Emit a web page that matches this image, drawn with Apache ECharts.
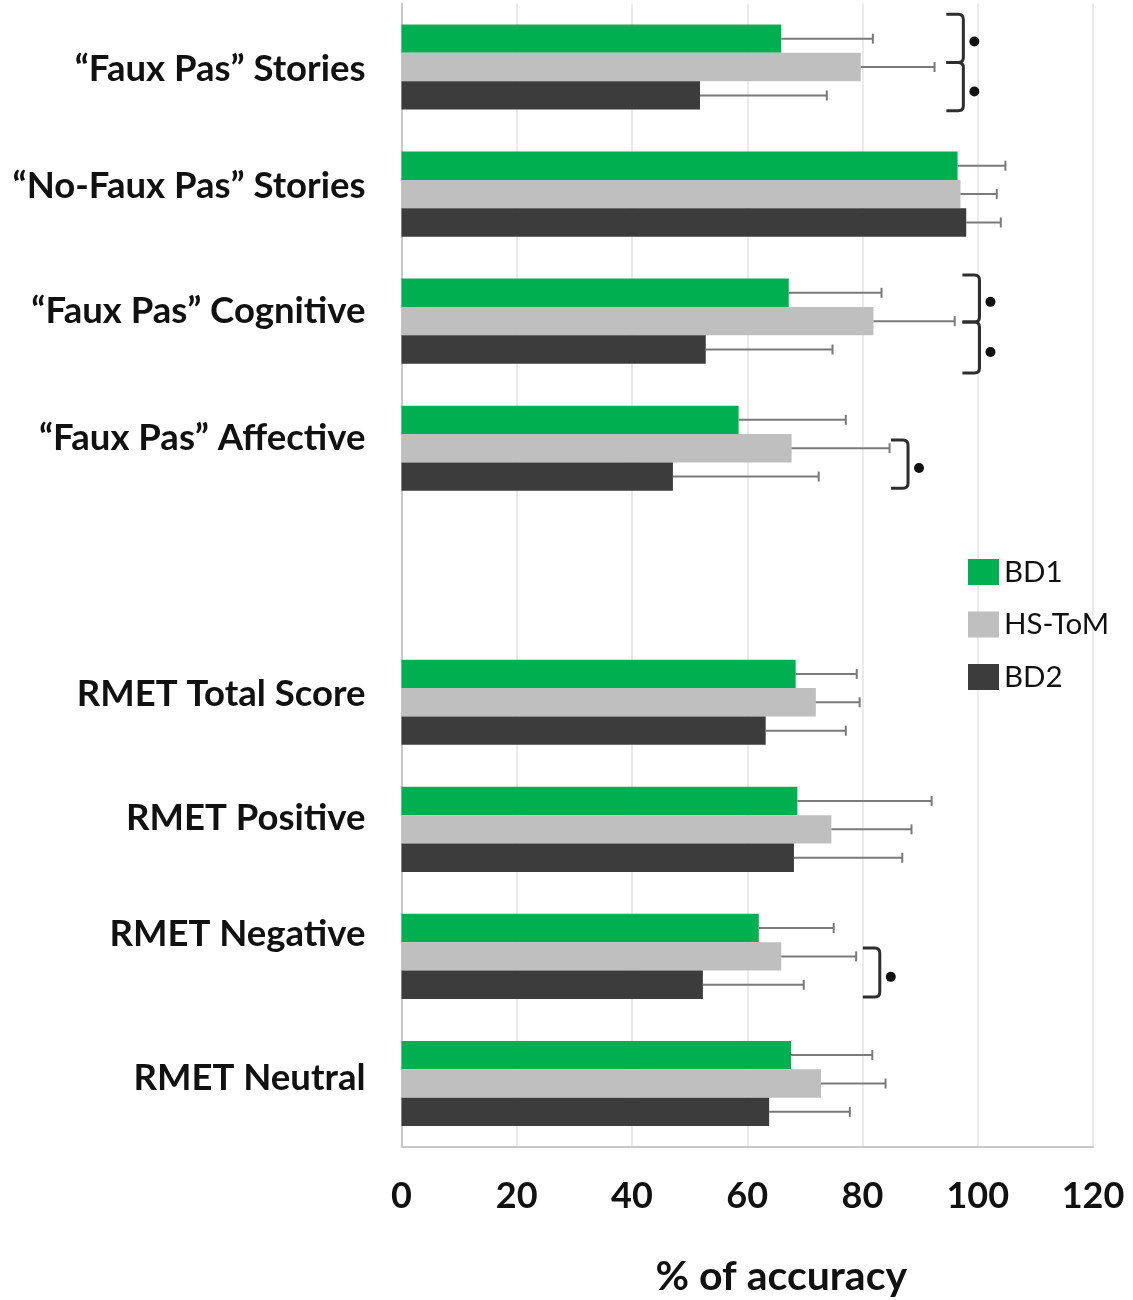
<!DOCTYPE html>
<html>
<head>
<meta charset="utf-8">
<script src="https://cdn.jsdelivr.net/npm/echarts@6/dist/echarts.min.js"></script>
<style>
  html, body { margin: 0; padding: 0; background: #fff; }
  #main { width: 1133px; height: 1300px; }
</style>
</head>
<body>
<div id="main"></div>
<script>
// categories top to bottom, '' is the empty spacer row
var categories = ['“Faux Pas” Stories', '“No-Faux Pas” Stories', '“Faux Pas” Cognitive', '“Faux Pas” Affective', '',
  'RMET Total Score', 'RMET Positive', 'RMET Negative', 'RMET Neutral'];
var seriesNames = ['BD1', 'HS-ToM', 'BD2'];
var colors = ['#00b050', '#bfbfbf', '#3c3c3c'];

// mean % accuracy
var bd1 = [65.9, 96.5, 67.2, 58.5, null, 68.4, 68.7, 62.0, 67.6];
var hsTom = [79.7, 97.0, 81.9, 67.7, null, 71.9, 74.6, 65.9, 72.8];
var bd2 = [51.8, 98.0, 52.8, 47.1, null, 63.2, 68.1, 52.3, 63.8];
// upper end of the error bar
var bd1Top = [81.8, 104.8, 83.3, 77.1, null, 79.0, 92.0, 75.0, 81.7];
var hsTomTop = [92.5, 103.3, 96.0, 84.7, null, 79.5, 88.5, 78.9, 84.0];
var bd2Top = [73.8, 104.0, 74.8, 72.4, null, 77.1, 86.9, 69.8, 77.8];

// significance brackets: [category, x value, from bar slot, to bar slot, star slot]
// slots are measured in bar thickness from the middle bar
var brackets = [
  [0, 97.5, -1.86, -0.16, -0.9],
  [0, 97.5, -0.16, 1.54, 0.86],
  [2, 100.3, -1.63, 0.03, -0.68],
  [2, 100.3, 0.03, 1.83, 1.09],
  [3, 87.9, -0.29, 1.41, 0.7],
  [7, 83.0, -0.3, 1.43, 0.72]
];

// the row labels in the figure sit a little off the row centre (px, + is down)
var labelNudge = [2, -8, -10, -10, 0, -8, -11, -22, -5];

var means = [bd1, hsTom, bd2];
var tops = [bd1Top, hsTomTop, bd2Top];
var catGap = 0.33;

var chart = echarts.init(document.getElementById('main'));

function slotSize(api) {
  return api.size([0, 1])[1] * (1 - catGap) / 3;
}

function errorSeries(k) {
  var data = [];
  for (var i = 0; i < categories.length; i++) {
    if (means[k][i] != null) data.push([i, means[k][i], tops[k][i]]);
  }
  return {
    type: 'custom',
    name: seriesNames[k] + ' err',
    silent: true,
    z: 5,
    data: data,
    renderItem: function (params, api) {
      var p0 = api.coord([api.value(1), api.value(0)]);
      var p1 = api.coord([api.value(2), api.value(0)]);
      var y = p0[1] + (k - 1) * slotSize(api);
      var st = { stroke: '#7a7a7a', lineWidth: 2 };
      return {
        type: 'group',
        children: [
          { type: 'line', shape: { x1: p0[0], y1: y, x2: p1[0], y2: y }, style: st },
          { type: 'line', shape: { x1: p1[0], y1: y - 5, x2: p1[0], y2: y + 5 }, style: st }
        ]
      };
    }
  };
}

var series = [];
for (var k = 0; k < 3; k++) {
  series.push({
    type: 'bar',
    name: seriesNames[k],
    data: means[k],
    barGap: '0%',
    barCategoryGap: (catGap * 100) + '%',
    itemStyle: { color: colors[k] },
    silent: true
  });
}
for (var k = 0; k < 3; k++) series.push(errorSeries(k));

series.push({
  type: 'custom',
  name: 'sig',
  silent: true,
  z: 6,
  data: brackets,
  renderItem: function (params, api) {
    var c = api.coord([api.value(1), api.value(0)]);
    var s = slotSize(api);
    var x = c[0], h = 17, r = 5;
    var y1 = c[1] + api.value(2) * s;
    var y2 = c[1] + api.value(3) * s;
    var ys = c[1] + api.value(4) * s;
    var path = 'M' + (x - h) + ',' + y1 + ' L' + (x - r) + ',' + y1 +
      ' Q' + x + ',' + y1 + ' ' + x + ',' + (y1 + r) +
      ' L' + x + ',' + (y2 - r) +
      ' Q' + x + ',' + y2 + ' ' + (x - r) + ',' + y2 +
      ' L' + (x - h) + ',' + y2;
    return {
      type: 'group',
      children: [
        { type: 'path', shape: { pathData: path }, style: { fill: null, stroke: '#2e2e2e', lineWidth: 3 } },
        { type: 'circle', shape: { cx: x + 11, cy: ys, r: 5 }, style: { fill: '#111' } }
      ]
    };
  }
});

// one rich style per row so each label can be nudged up or down
var labelRich = {};
labelNudge.forEach(function (n, i) {
  labelRich['r' + i] = {
    fontFamily: 'Lato', fontWeight: 'bold', fontSize: 36.5, color: '#111',
    padding: n < 0 ? [0, 0, -2 * n, 0] : [2 * n, 0, 0, 0]
  };
});

var option = {
  animation: false,
  backgroundColor: '#fff',
  grid: { left: 401.5, right: 40, top: 3.5, bottom: 153, containLabel: false, outerBoundsMode: 'none' },
  legend: {
    data: seriesNames,
    orient: 'vertical',
    left: 968,
    top: 557,
    padding: 0,
    itemWidth: 31,
    itemHeight: 26,
    itemGap: 22.5,
    icon: 'rect',
    selectedMode: false,
    textStyle: { fontFamily: 'Lato', fontSize: 29.5, color: '#111' }
  },
  xAxis: {
    type: 'value',
    min: 0,
    max: 120,
    interval: 20,
    name: '% of accuracy',
    nameLocation: 'middle',
    nameGap: 109,
    nameTextStyle: { fontFamily: 'Lato', fontWeight: 'bold', fontSize: 41, color: '#111', padding: [0, 0, 0, 68] },
    axisLine: { show: true, lineStyle: { color: '#c8c8c8', width: 2 } },
    axisTick: { show: false },
    splitLine: { show: true, lineStyle: { color: '#e4e4e4', width: 1.5 } },
    axisLabel: { margin: 31, fontFamily: 'Lato', fontWeight: 'bold', fontSize: 36, color: '#111' }
  },
  yAxis: {
    type: 'category',
    data: categories,
    inverse: true,
    axisLine: { show: true, lineStyle: { color: '#c8c8c8', width: 2 } },
    axisTick: { show: false },
    axisLabel: {
      margin: 36,
      fontFamily: 'Lato', fontWeight: 'bold', fontSize: 36.5, color: '#111',
      formatter: function (value, index) {
        return value ? '{r' + index + '|' + value + '}' : '';
      },
      rich: labelRich
    }
  },
  series: series
};

chart.setOption(option);
</script>
</body>
</html>
